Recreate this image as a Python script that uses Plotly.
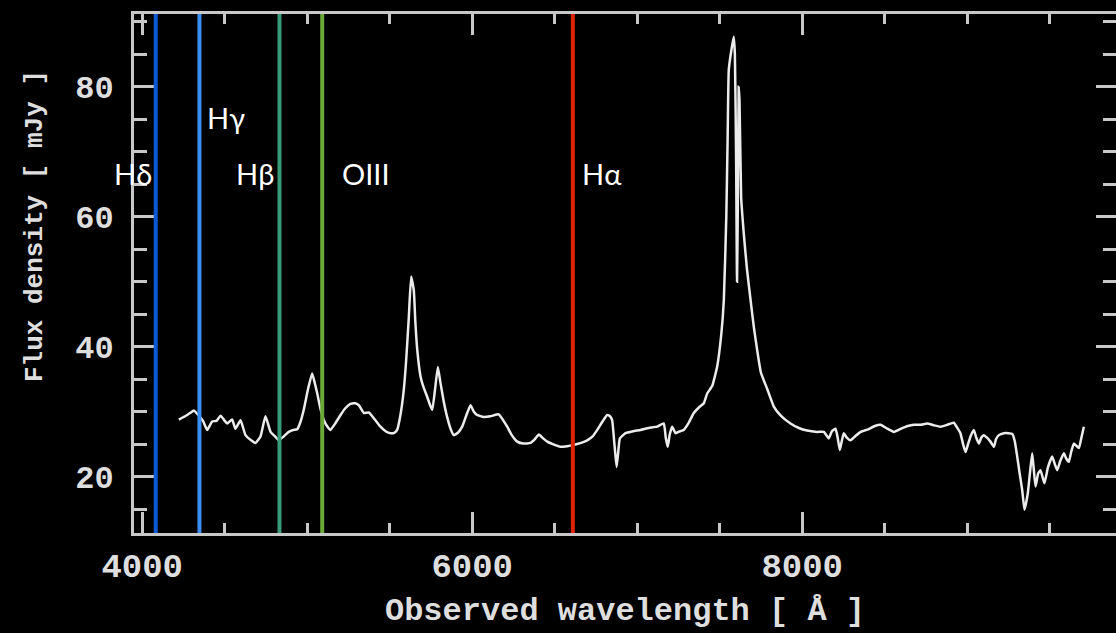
import plotly.graph_objects as go

# Spectrum (observed wavelength in Angstrom, flux density in mJy)
wavelength = [
    4222, 4260, 4290, 4313, 4343, 4370, 4394, 4424, 4450, 4475, 4500, 4515, 4545, 4565, 4596,
    4626, 4660, 4687, 4717, 4747, 4778, 4805, 4828, 4858, 4888, 4915, 4939, 4960, 4979, 5005,
    5030, 5045, 5061, 5080, 5101, 5120, 5141, 5170, 5202, 5230, 5262, 5290, 5313, 5343, 5373,
    5410, 5444, 5475, 5505, 5530, 5545, 5565, 5585, 5600, 5616, 5630, 5646, 5655, 5667, 5687,
    5705, 5727, 5745, 5758, 5775, 5792, 5808, 5828, 5848, 5870, 5888, 5915, 5939, 5965, 5990,
    6010, 6030, 6070, 6110, 6161, 6190, 6212, 6240, 6273, 6310, 6353, 6380, 6404, 6430, 6455,
    6500, 6535, 6575, 6616, 6660, 6697, 6730, 6758, 6790, 6818, 6835, 6848, 6862, 6875, 6885,
    6895, 6929, 6975, 7020, 7070, 7121, 7161, 7173, 7185, 7197, 7212, 7232, 7260, 7282, 7310,
    7343, 7380, 7404, 7424, 7455, 7485, 7510, 7525, 7540, 7548, 7555, 7570, 7585, 7592, 7599,
    7605, 7610, 7615, 7620, 7630, 7646, 7665, 7687, 7707, 7727, 7750, 7788, 7828, 7870, 7929,
    7980, 8030, 8090, 8131, 8161, 8180, 8202, 8215, 8228, 8240, 8252, 8270, 8293, 8320, 8354,
    8400, 8440, 8475, 8515, 8555, 8600, 8640, 8677, 8720, 8758, 8800, 8838, 8880, 8919, 8940,
    8959, 8975, 8990, 9005, 9020, 9040, 9055, 9071, 9085, 9101, 9120, 9141, 9162, 9175, 9192,
    9222, 9250, 9273, 9288, 9303, 9318, 9333, 9347, 9357, 9367, 9380, 9394, 9404, 9414, 9430,
    9444, 9456, 9468, 9490, 9515, 9530, 9545, 9565, 9586, 9600, 9616, 9630, 9646, 9660, 9677,
    9692, 9707,
]
flux = [
    28.8, 29.3, 29.8, 30.2, 29.4, 28.5, 27.2, 28.5, 28.6, 29.4, 28.6, 28.2, 28.8, 27.4, 28.7,
    26.4, 25.6, 25.2, 26.2, 29.3, 26.9, 26.2, 25.6, 26.2, 26.9, 27.2, 27.3, 28.5, 30.3, 33.5,
    35.9, 34.5, 32.8, 30.5, 28.7, 27.8, 27.2, 28.2, 29.5, 30.5, 31.2, 31.3, 31.0, 29.8, 29.9,
    28.8, 27.7, 27.0, 26.7, 26.8, 27.2, 29.5, 33.3, 38.0, 44.6, 50.8, 48.7, 44.0, 39.5, 35.4,
    33.8, 32.3, 31.0, 30.3, 33.5, 36.9, 34.4, 31.5, 29.2, 27.3, 26.4, 26.8, 27.7, 29.5, 31.0,
    30.0, 29.5, 29.2, 29.3, 29.6, 28.6, 27.7, 26.4, 25.4, 25.1, 25.2, 25.8, 26.5, 25.9, 25.4,
    24.9, 24.6, 24.7, 24.9, 25.2, 25.6, 26.2, 27.2, 28.5, 29.5, 29.3, 28.7, 25.0, 21.5, 23.8,
    25.9, 26.7, 27.0, 27.2, 27.5, 27.7, 28.2, 26.0, 24.6, 26.5, 27.7, 26.7, 27.0, 27.2, 28.2,
    29.8, 30.8, 31.3, 32.8, 34.0, 37.0, 42.0, 47.2, 60.0, 72.0, 82.6, 85.5, 87.7, 85.0, 70.0,
    50.0, 62.0, 80.0, 78.0, 63.0, 57.4, 52.0, 47.2, 43.0, 39.5, 36.0, 33.5, 30.8, 29.4, 28.2,
    27.5, 27.1, 26.9, 26.9, 25.9, 27.0, 27.4, 26.0, 24.1, 25.5, 26.7, 26.0, 25.6, 26.2, 26.9,
    27.3, 27.8, 28.0, 27.4, 26.9, 27.4, 27.8, 28.0, 28.0, 28.2, 27.9, 27.7, 28.0, 28.3, 27.5,
    26.7, 25.0, 23.8, 25.0, 26.2, 27.2, 26.0, 25.1, 26.0, 26.4, 26.0, 25.4, 24.6, 25.8, 26.4,
    26.7, 26.7, 26.6, 25.5, 23.1, 20.5, 18.0, 14.9, 16.0, 17.4, 20.5, 23.6, 21.0, 18.5, 20.5,
    21.0, 20.0, 19.0, 21.5, 23.1, 22.0, 21.0, 22.5, 23.6, 22.8, 22.3, 23.8, 25.1, 24.8, 24.4,
    26.0, 27.7,
]

# Marked emission lines
line_names = ["Hδ", "Hγ", "Hβ", "OIII", "Hα"]
line_wavelengths = [4082, 4347, 4832, 5091, 6610]
line_colors = ["#0a5ad8", "#3d8ef2", "#3a9a78", "#6aa83a", "#e02208"]
label_heights = [66.7, 75.2, 66.7, 66.7, 66.7]

axis_color = "#c8c8c8"
text_color = "#dedede"

fig = go.Figure()
fig.add_trace(go.Scatter(
    x=wavelength, y=flux, mode="lines",
    line=dict(color="#ececec", width=2.5, shape="spline", smoothing=0.4),
    showlegend=False, hoverinfo="skip",
))
# invisible trace to carry the right-hand tick axis
fig.add_trace(go.Scatter(x=[wavelength[0]], y=[flux[0]], yaxis="y2", mode="markers",
                         marker=dict(opacity=0), showlegend=False, hoverinfo="skip"))

for wl, col in zip(line_wavelengths, line_colors):
    fig.add_shape(type="line", xref="x", yref="paper", x0=wl, x1=wl, y0=0, y1=1,
                  line=dict(color=col, width=4), layer="above")

anchors = ["right", "left", "right", "left", "left"]
shifts = [-2, 6, -3, 18, 7]
for name, wl, yv, anc, sh in zip(line_names, line_wavelengths, label_heights, anchors, shifts):
    fig.add_annotation(x=wl, y=yv, xref="x", yref="y", text=name, showarrow=False,
                       xanchor=anc, yanchor="middle", xshift=sh,
                       font=dict(family="Lato", size=29, color="white"))

mono = "Liberation Mono"

# y-axis title (placed as text so it can sit where the reference has it)
fig.add_annotation(x=-0.1008, y=0.5915, xref="paper", yref="paper",
                   text="Flux density [ mJy ]", textangle=-90, showarrow=False,
                   xanchor="center", yanchor="middle",
                   font=dict(family=mono, size=26, color=text_color, weight="bold"))

fig.update_layout(
    width=1116, height=633,
    margin=dict(l=134, r=0, t=14, b=100),
    paper_bgcolor="black", plot_bgcolor="black",
    xaxis=dict(
        range=[3950.3, 9901.8], showgrid=False, zeroline=False,
        showline=True, linecolor=axis_color, linewidth=3, mirror="ticks",
        ticks="inside", ticklen=21, tickwidth=2.5, tickcolor=axis_color,
        tick0=0, dtick=2000, tickformat="d", ticklabelstandoff=0,
        tickfont=dict(family=mono, size=34, color=text_color, weight="bold"),
        minor=dict(dtick=500, ticks="inside", ticklen=10, tickwidth=2.5, tickcolor=axis_color, showgrid=False),
        title=dict(text="Observed wavelength [ Å ]", standoff=12,
                   font=dict(family=mono, size=32, color=text_color, weight="bold")),
    ),
    yaxis=dict(
        range=[11.34, 91.2], showgrid=False, zeroline=False,
        showline=True, linecolor=axis_color, linewidth=3, mirror=False,
        ticks="inside", ticklen=20, tickwidth=2.5, tickcolor=axis_color,
        tick0=0, dtick=20, ticklabelstandoff=11,
        tickfont=dict(family=mono, size=32, color=text_color, weight="bold"),
        minor=dict(dtick=5, ticks="inside", ticklen=13, tickwidth=2.5, tickcolor=axis_color, showgrid=False),
    ),
    yaxis2=dict(
        overlaying="y", side="right", matches="y", showgrid=False, zeroline=False,
        showline=False, showticklabels=False,
        ticks="inside", ticklen=20, tickwidth=2.5, tickcolor=axis_color, tick0=0, dtick=20,
        minor=dict(dtick=5, ticks="inside", ticklen=13, tickwidth=2.5, tickcolor=axis_color, showgrid=False),
    ),
)

fig.write_html("out.html")
